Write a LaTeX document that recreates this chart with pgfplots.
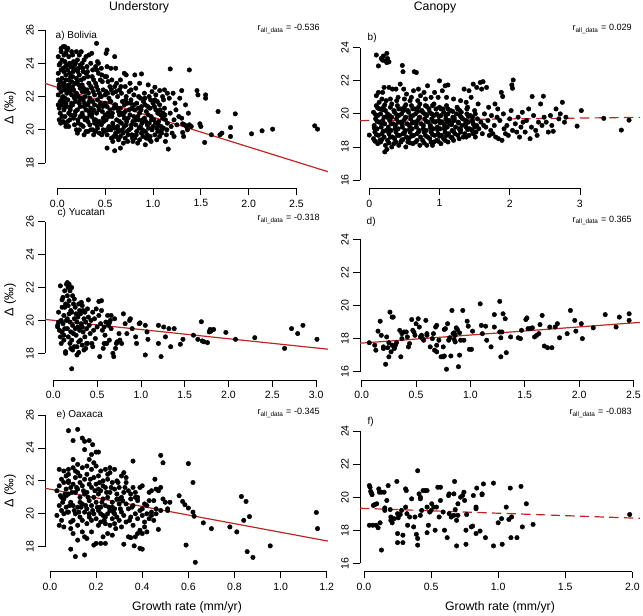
\documentclass[border=0pt]{standalone}
\usepackage{pgfplots}
\pgfplotsset{compat=1.18}
\usepackage{fontspec}
\setmainfont{Liberation Sans}
\definecolor{regred}{RGB}{190,38,38}
\pgfplotsset{
 rp/.style={
  scale only axis, clip=false,
  axis line style={draw=none},
  tick align=outside,
  major tick length=5pt,
  xtick pos=left, ytick pos=left,
  tick style={black, line width=0.6pt},
  ticklabel style={font=\fontsize{7.9}{9}\selectfont},
  yticklabel style={rotate=90, anchor=south},
  xticklabel style={anchor=north},
  /pgf/number format/assume math mode=true,
  scaled ticks=false,
  minor tick num=0,
 },
 pts/.style={only marks, mark=*, mark size=1.7pt, black, mark options={draw=black, fill=black, line width=0.3pt}},
 reg/.style={regred, line width=0.9pt, no marks},
 regd/.style={regred, line width=0.9pt, no marks, dash pattern=on 7pt off 4pt},
}
\newcommand{\rlab}[1]{\fontsize{6.8}{8}\selectfont r\textsubscript{\fontsize{4.8}{5}\selectfont all\_data} = #1}
\begin{document}
\begin{tikzpicture}[x=0.75pt,y=0.75pt]
\path[use as bounding box] (0,0) rectangle (643,615);

% ---------------- a) Bolivia understory
\begin{axis}[rp, at={(33.75pt,320pt)}, anchor=south west, width=212.25pt, height=123.2pt,
  xmin=-0.1285, xmax=2.829, ymin=16.48, ymax=26.36,
  xtick={0,0.5,1,1.5,2,2.5}, xticklabels={0.0,0.5,1.0,1.5,2.0,2.5},
  ytick={18,20,22,24,26}]
\draw[line width=0.6pt] (axis cs:0,16.48) -- (axis cs:2.5,16.48);
\draw[line width=0.6pt] (axis cs:-0.1285,18) -- (axis cs:-0.1285,26);
\addplot[pts] coordinates {
(0.01,24.4)(0.02,23.9)(0.01,23.4)(0.03,22.9)(0.02,22.5)(0.01,22.1)(0.03,21.7)(0.02,21.3)(0.04,24.7)(0.04,23.6)(0.05,23.1)(0.04,22.3)(0.05,21.9)(0.03,21.0)(0.02,20.6)(0.05,24.2)(0.01,23.0)(0.04,21.5)(0.05,20.8)(0.03,24.0)
(0.06,25.0)(0.07,24.5)(0.08,24.1)(0.06,23.7)(0.09,23.3)(0.07,22.8)(0.08,22.4)(0.06,22.0)(0.09,21.6)(0.07,21.2)(0.08,20.8)(0.06,20.5)(0.10,24.8)(0.09,24.6)(0.10,23.9)(0.09,23.0)(0.10,22.6)(0.08,21.9)(0.10,21.4)(0.09,20.2)(0.07,23.5)(0.08,25.0)
(0.11,24.9)(0.12,24.4)(0.13,24.0)(0.11,23.6)(0.14,23.2)(0.12,22.7)(0.13,22.3)(0.11,21.8)(0.14,21.4)(0.12,21.0)(0.13,20.6)(0.15,24.7)(0.14,23.8)(0.15,22.9)(0.15,22.1)(0.14,20.9)(0.12,20.2)(0.11,22.5)(0.13,23.4)(0.15,21.6)
(0.16,24.5)(0.17,24.1)(0.18,23.6)(0.16,23.2)(0.19,22.8)(0.17,22.4)(0.18,21.9)(0.16,21.5)(0.19,21.1)(0.17,20.7)(0.20,24.7)(0.19,24.0)(0.20,23.1)(0.20,22.2)(0.18,20.3)(0.19,21.7)(0.16,22.6)(0.18,23.9)
(0.21,24.2)(0.22,23.7)(0.23,23.3)(0.21,22.9)(0.24,22.5)(0.22,22.0)(0.23,21.6)(0.21,21.2)(0.24,20.8)(0.22,20.4)(0.25,24.7)(0.24,23.9)(0.25,23.0)(0.25,21.9)(0.23,20.0)(0.21,19.8)(0.24,21.4)
(0.26,24.0)(0.27,23.5)(0.28,23.1)(0.26,22.7)(0.29,22.3)(0.27,21.8)(0.28,21.4)(0.26,21.0)(0.29,20.6)(0.27,20.2)(0.30,24.4)(0.30,23.4)(0.29,22.0)(0.30,21.2)(0.28,19.7)(0.26,22.3)
(0.31,23.8)(0.32,23.2)(0.33,22.8)(0.31,22.4)(0.34,21.9)(0.32,21.5)(0.33,21.1)(0.31,20.7)(0.34,20.3)(0.35,24.0)(0.35,22.6)(0.34,20.9)(0.32,19.9)(0.33,24.5)(0.35,21.3)
(0.36,24.6)(0.37,23.6)(0.38,23.0)(0.36,22.5)(0.39,22.1)(0.37,21.7)(0.38,21.2)(0.36,20.8)(0.39,20.4)(0.37,20.0)(0.40,23.8)(0.40,22.8)(0.39,21.5)(0.40,20.6)(0.38,19.7)
(0.41,25.2)(0.42,24.1)(0.43,23.4)(0.41,22.6)(0.44,22.2)(0.42,21.8)(0.43,21.4)(0.41,21.0)(0.44,20.5)(0.42,20.1)(0.45,23.0)(0.45,21.6)(0.44,19.8)(0.43,24.0)
(0.46,23.7)(0.47,22.9)(0.48,22.4)(0.46,22.0)(0.49,21.5)(0.47,21.1)(0.48,20.7)(0.46,20.3)(0.49,19.9)(0.50,23.2)(0.50,22.1)(0.50,20.9)(0.48,20.0)
(0.51,24.6)(0.52,24.8)(0.52,23.8)(0.53,22.9)(0.51,22.3)(0.54,21.9)(0.52,21.4)(0.53,21.0)(0.51,20.6)(0.54,20.2)(0.52,19.7)(0.52,18.9)(0.55,22.6)(0.55,21.2)(0.53,20.0)
(0.56,23.7)(0.57,23.0)(0.58,22.2)(0.56,21.7)(0.59,21.3)(0.57,20.8)(0.58,20.4)(0.56,20.0)(0.59,19.6)(0.60,24.4)(0.60,22.6)(0.60,20.1)(0.58,19.3)(0.60,18.74)
(0.61,23.7)(0.62,22.8)(0.63,22.0)(0.61,21.5)(0.64,21.1)(0.62,20.6)(0.63,20.2)(0.61,19.8)(0.64,19.4)(0.66,18.9)(0.65,22.4)(0.65,20.9)(0.64,19.9)
(0.66,23.0)(0.67,22.2)(0.68,21.7)(0.66,21.3)(0.69,20.9)(0.67,20.4)(0.68,20.0)(0.66,19.6)(0.69,19.2)(0.70,23.4)(0.70,21.5)(0.70,20.2)
(0.71,22.6)(0.72,22.0)(0.73,21.6)(0.71,21.1)(0.74,20.7)(0.72,20.3)(0.73,19.9)(0.71,19.5)(0.75,22.3)(0.75,21.2)(0.74,19.7)(0.72,23.3)
(0.76,22.8)(0.77,21.8)(0.78,21.3)(0.76,20.9)(0.79,20.5)(0.77,20.1)(0.78,19.7)(0.80,22.1)(0.80,20.8)(0.79,19.3)(0.77,22.4)
(0.81,23.3)(0.82,22.5)(0.83,21.6)(0.81,21.2)(0.84,20.8)(0.82,20.3)(0.83,19.9)(0.81,19.5)(0.85,22.0)(0.85,20.6)(0.84,19.2)
(0.86,22.8)(0.87,21.9)(0.88,21.4)(0.86,21.0)(0.89,20.6)(0.87,20.2)(0.88,19.8)(0.88,23.36)(0.90,21.7)(0.89,20.0)(0.86,19.4)
(0.91,22.2)(0.92,21.5)(0.93,21.1)(0.91,20.7)(0.94,20.3)(0.92,19.9)(0.93,19.5)(0.95,22.7)(0.95,20.9)(0.94,19.7)(0.92,19.1)
(0.96,22.0)(0.97,21.3)(0.98,20.8)(0.96,20.4)(0.99,20.0)(0.97,19.6)(1.00,21.6)(1.00,20.2)(0.98,19.3)(0.99,22.3)
(1.02,22.56)(1.02,21.8)(1.03,21.2)(1.01,20.6)(1.04,20.1)(1.02,19.7)(1.05,21.0)(1.05,19.9)(1.03,22.1)(1.04,19.4)
(1.07,22.36)(1.07,21.5)(1.08,20.9)(1.06,20.5)(1.09,20.0)(1.07,19.6)(1.10,22.0)(1.10,20.7)(1.09,19.8)
(1.11,21.8)(1.12,21.3)(1.13,20.6)(1.11,20.1)(1.14,19.7)(1.13,19.3)(1.15,22.2)(1.15,20.4)(1.12,22.4)
(1.16,18.84)(1.17,21.9)(1.18,21.0)(1.19,20.2)(1.18,23.66)(1.20,19.8)(1.21,22.2)(1.22,20.6)(1.23,21.6)(1.24,21.2)(1.25,20.3)(1.22,19.6)
(1.27,20.8)(1.28,21.9)(1.30,22.36)(1.30,20.7)(1.31,20.36)(1.31,19.84)(1.32,19.6)(1.33,20.3)(1.34,21.5)(1.35,20.2)(1.36,20.0)(1.38,23.6)(1.38,20.3)(1.37,21.0)(1.40,20.2)
(1.46,22.36)(1.47,22.1)(1.49,20.36)(1.50,20.2)(1.54,19.24)(1.55,22.1)(1.55,21.9)(1.61,19.7)(1.68,21.1)(1.70,19.7)(1.72,19.8)(1.81,20.14)(1.81,19.6)(1.86,20.96)(2.03,19.76)(2.14,19.94)(2.25,20.04)(2.69,20.24)(2.72,20.04)
(0.035,20.4)(0.035,22.7)(0.04,24.9)(0.085,20.4)(0.085,23.8)(0.065,22.6)(0.075,21.4)(0.12,23.0)(0.135,21.2)(0.11,20.5)(0.165,23.5)(0.175,22.0)(0.185,20.9)(0.2,20.0)(0.215,23.5)(0.225,22.7)(0.235,21.8)(0.215,20.6)(0.25,20.3)(0.265,23.7)(0.275,22.5)(0.285,21.6)(0.27,20.8)(0.3,19.9)
(0.315,23.5)(0.325,22.2)(0.335,21.7)(0.32,20.5)(0.35,20.0)(0.365,23.2)(0.375,22.3)(0.385,20.6)(0.36,21.0)(0.4,19.9)(0.415,23.6)(0.425,22.4)(0.435,21.2)(0.415,20.3)(0.45,22.0)(0.465,23.3)(0.475,21.4)(0.485,20.5)(0.465,19.7)(0.5,21.6)
(0.515,23.2)(0.525,22.2)(0.535,20.8)(0.515,20.0)(0.55,21.7)(0.565,22.4)(0.575,21.0)(0.585,20.2)(0.565,19.5)(0.6,21.5)(0.615,22.3)(0.625,21.3)(0.635,20.0)(0.615,19.6)(0.65,20.5)(0.665,22.6)(0.675,21.0)(0.685,19.8)(0.7,20.7)
(0.715,21.8)(0.725,20.5)(0.735,19.3)(0.75,20.0)(0.765,21.6)(0.775,20.3)(0.785,19.5)(0.8,21.5)(0.815,20.6)(0.825,19.7)(0.845,21.3)(0.855,20.1)(0.875,21.2)(0.885,20.4)(0.895,19.6)(0.915,21.9)(0.925,20.5)(0.945,21.4)(0.955,20.1)(0.965,19.4)
(0.975,21.8)(0.985,20.6)(1.015,21.4)(1.025,20.4)(1.045,21.7)(1.055,20.3)(1.075,21.2)(1.085,20.2)(1.105,21.0)(1.125,20.9)(1.145,20.0)(0.02,22.7)(0.01,21.5)(0.06,21.7)(0.1,22.2)(0.14,22.5)(0.17,23.7)(0.23,24.5)(0.28,24.2)
};
\addplot[reg] coordinates {(-0.1285,22.79) (2.829,17.48)};
\end{axis}

% ---------------- b) Bolivia canopy
\begin{axis}[rp, at={(270pt,320pt)}, anchor=south west, width=210pt, height=123.2pt,
  xmin=-0.1325, xmax=3.856, ymin=15.498, ymax=25.433,
  xtick={0,1,2,3}, xticklabels={0,1,2,3},
  ytick={16,18,20,22,24}]
\draw[line width=0.6pt] (axis cs:0,15.498) -- (axis cs:3,15.498);
\draw[line width=0.6pt] (axis cs:-0.1325,16) -- (axis cs:-0.1325,24);
\addplot[pts] coordinates {
(0.10,23.56)(0.13,22.9)(0.17,23.35)(0.20,23.5)(0.25,23.66)(0.26,23.35)(0.28,23.15)(0.23,23.2)(0.19,23.25)(0.25,23.1)
(0.06,18.5)(0.08,18.9)(0.07,19.3)(0.09,19.7)(0.06,20.1)(0.10,20.5)(0.12,18.2)(0.13,18.7)(0.11,19.1)(0.14,19.5)(0.12,19.9)(0.15,20.3)(0.13,21.3)(0.10,21.1)(0.15,18.4)(0.0,18.72)(0.14,20.7)
(0.16,18.3)(0.18,18.8)(0.17,19.2)(0.19,19.6)(0.16,20.0)(0.20,20.4)(0.22,17.7)(0.23,18.1)(0.21,18.6)(0.24,19.0)(0.22,19.4)(0.25,19.8)(0.23,20.2)(0.24,20.8)(0.19,21.3)(0.21,21.6)(0.25,17.85)(0.18,20.9)
(0.26,18.4)(0.28,18.8)(0.27,19.2)(0.29,19.6)(0.26,20.0)(0.30,20.4)(0.32,18.0)(0.33,18.6)(0.31,19.0)(0.34,19.4)(0.32,19.8)(0.35,20.2)(0.30,20.9)(0.33,21.5)(0.28,21.6)(0.35,18.2)
(0.36,18.5)(0.38,18.9)(0.37,19.3)(0.39,19.7)(0.36,20.1)(0.40,20.5)(0.42,18.1)(0.43,18.7)(0.41,19.1)(0.44,19.5)(0.42,19.9)(0.45,20.3)(0.41,21.0)(0.44,21.8)(0.38,21.5)(0.45,18.3)(0.39,20.8)
(0.46,18.4)(0.48,18.8)(0.47,19.2)(0.49,19.6)(0.46,20.0)(0.50,20.4)(0.52,18.0)(0.53,18.6)(0.51,19.0)(0.54,19.4)(0.52,19.8)(0.55,20.2)(0.47,22.93)(0.48,22.55)(0.50,20.9)(0.53,21.2)(0.55,18.3)(0.49,21.5)
(0.56,18.5)(0.58,18.9)(0.57,19.3)(0.59,19.7)(0.56,20.1)(0.60,20.5)(0.62,18.2)(0.63,18.7)(0.61,19.1)(0.64,19.5)(0.62,19.9)(0.65,20.3)(0.64,22.55)(0.60,21.0)(0.63,21.4)(0.58,20.8)
(0.66,18.3)(0.68,18.8)(0.67,19.2)(0.69,19.6)(0.66,20.0)(0.70,20.4)(0.72,18.1)(0.73,18.6)(0.71,19.0)(0.74,19.4)(0.72,19.8)(0.75,20.2)(0.67,22.5)(0.70,21.5)(0.73,21.1)(0.69,20.8)
(0.76,18.4)(0.78,18.9)(0.77,19.3)(0.79,19.7)(0.76,20.1)(0.80,20.5)(0.82,18.1)(0.83,18.6)(0.81,19.0)(0.84,19.5)(0.82,19.9)(0.85,20.3)(0.78,21.3)(0.83,21.7)(0.80,20.9)
(0.86,18.5)(0.88,18.9)(0.87,19.3)(0.89,19.7)(0.86,20.1)(0.90,20.5)(0.92,18.3)(0.93,18.7)(0.91,19.1)(0.94,19.5)(0.92,19.9)(0.95,20.3)(0.88,21.0)(0.93,21.3)(0.90,18.1)
(0.96,18.4)(0.98,18.8)(0.97,19.2)(0.99,19.6)(0.96,20.0)(1.00,20.4)(1.02,18.2)(1.03,18.7)(1.01,19.1)(1.04,19.5)(1.02,19.9)(1.05,20.3)(1.00,22.0)(0.98,21.0)(1.04,21.4)
(1.06,18.5)(1.08,18.9)(1.07,19.3)(1.09,19.7)(1.06,20.1)(1.10,20.5)(1.12,18.3)(1.13,18.8)(1.11,19.2)(1.14,19.6)(1.12,20.0)(1.15,19.4)(1.08,21.7)(1.12,21.75)(1.10,21.0)
(1.16,18.6)(1.18,19.0)(1.17,19.4)(1.19,19.8)(1.16,20.2)(1.20,18.4)(1.22,18.8)(1.23,19.2)(1.21,19.6)(1.24,20.0)(1.25,20.4)(1.20,20.9)
(1.26,18.7)(1.28,19.1)(1.27,19.5)(1.29,19.9)(1.26,20.3)(1.30,18.9)(1.32,19.3)(1.33,19.7)(1.31,20.1)(1.34,18.6)(1.35,21.5)(1.30,20.8)
(1.36,18.8)(1.38,19.2)(1.37,19.6)(1.39,20.0)(1.40,20.4)(1.42,18.7)(1.43,19.1)(1.41,19.5)(1.44,19.9)(1.45,21.0)(1.42,21.4)(1.38,20.7)
(1.46,19.0)(1.48,19.4)(1.47,19.8)(1.50,20.2)(1.52,18.9)(1.53,19.3)(1.51,18.6)(1.54,19.7)(1.55,20.6)(1.48,21.8)(1.53,21.6)
(1.58,21.9)(1.62,21.95)(1.56,19.1)(1.59,19.5)(1.61,18.8)(1.63,19.3)(1.64,20.0)(1.60,21.5)
(1.67,21.6)(1.66,19.2)(1.69,19.6)(1.71,18.7)(1.73,19.0)(1.74,19.9)(1.70,20.4)
(1.76,18.8)(1.78,19.3)(1.80,18.6)(1.82,19.8)(1.84,18.5)(1.83,20.3)(1.79,20.6)
(1.88,21.3)(1.90,21.05)(1.86,19.6)(1.89,18.4)(1.92,19.1)(1.94,18.8)(1.91,20.0)
(2.03,21.75)(2.04,21.55)(2.05,22.05)(1.96,19.3)(1.98,18.7)(2.00,19.7)(2.02,20.2)(2.04,19.0)
(2.08,19.4)(2.10,18.9)(2.12,19.8)(2.14,18.6)(2.16,19.2)(2.18,20.1)(2.19,19.5)
(2.22,18.9)(2.24,19.6)(2.27,20.3)(2.29,18.5)(2.32,21.05)(2.31,19.2)(2.34,19.9)
(2.37,19.0)(2.39,18.7)(2.41,19.5)(2.44,20.6)(2.46,19.3)(2.48,21.07)(2.49,19.8)
(2.52,19.5)(2.55,18.9)(2.58,19.9)(2.60,19.3)(2.62,18.95)(2.66,20.3)(2.70,19.7)(2.75,20.7)(2.78,19.5)(2.80,19.8)(2.72,20.0)
(3.02,20.2)(2.96,19.26)(3.34,19.73)(3.59,19.02)(3.70,19.62)
(0.08,18.35)(0.10,18.75)(0.07,19.15)(0.11,19.55)(0.09,19.95)(0.12,20.35)
(0.18,18.45)(0.20,18.95)(0.17,19.45)(0.21,19.8)(0.19,20.25)(0.22,20.55)
(0.28,18.25)(0.30,18.6)(0.27,19.0)(0.31,19.4)(0.29,19.9)(0.32,20.6)
(0.38,18.3)(0.40,18.7)(0.37,19.1)(0.41,19.5)(0.39,19.95)(0.42,20.3)
(0.48,18.45)(0.50,18.85)(0.47,19.35)(0.51,19.75)(0.49,20.2)(0.52,20.55)
(0.58,18.25)(0.60,18.65)(0.57,19.05)(0.61,19.45)(0.59,19.85)(0.62,20.3)
(0.68,18.4)(0.70,18.9)(0.67,19.4)(0.71,19.75)(0.69,20.15)(0.72,20.6)
(0.78,18.25)(0.80,18.7)(0.77,19.1)(0.81,19.55)(0.79,20.0)(0.82,20.45)
(0.88,18.3)(0.90,18.75)(0.87,19.15)(0.91,19.55)(0.89,20.0)(0.92,20.6)
(0.98,18.35)(1.00,18.65)(0.97,19.05)(1.01,19.45)(0.99,19.85)(1.02,20.3)
(1.08,18.4)(1.10,18.7)(1.07,19.1)(1.11,19.5)(1.09,19.9)(1.12,20.3)
(1.18,18.55)(1.20,18.95)(1.17,19.35)(1.21,19.75)(1.19,20.15)
(1.28,18.5)(1.30,19.05)(1.27,19.45)(1.31,19.8)(1.29,20.2)
(1.38,18.6)(1.40,19.05)(1.37,19.4)(1.41,19.85)(1.39,20.3)
(1.48,18.8)(1.50,19.2)(1.47,19.6)(1.51,20.0)
};
\addplot[regd] coordinates {(-0.1325,19.59) (3.856,19.79)};
\end{axis}

% ---------------- c) Yucatan understory
\begin{axis}[rp, at={(33.75pt,176.25pt)}, anchor=south west, width=212.25pt, height=123.2pt,
  xmin=-0.095, xmax=3.136, ymin=16.377, ymax=26.365,
  xtick={0,0.5,1,1.5,2,2.5,3}, xticklabels={0.0,0.5,1.0,1.5,2.0,2.5,3.0},
  ytick={18,20,22,24,26}]
\draw[line width=0.6pt] (axis cs:0,16.377) -- (axis cs:3,16.377);
\draw[line width=0.6pt] (axis cs:-0.095,18) -- (axis cs:-0.095,26);
\addplot[pts] coordinates {
(0.05,19.6)(0.05,19.7)(0.06,20.5)(0.08,22.1)(0.10,21.25)(0.08,19.0)(0.07,19.4)(0.09,20.0)(0.10,20.8)(0.09,18.6)(0.06,19.9)(0.10,19.3)
(0.11,19.8)(0.12,20.3)(0.13,20.8)(0.11,21.4)(0.12,18.8)(0.14,18.0)(0.14,18.1)(0.13,19.5)(0.15,22.2)(0.14,21.0)(0.12,19.1)(0.15,20.0)(0.13,21.8)
(0.16,22.3)(0.17,22.0)(0.18,22.2)(0.16,21.5)(0.17,20.9)(0.18,20.4)(0.19,19.9)(0.16,19.5)(0.17,19.0)(0.19,18.6)(0.20,18.3)(0.18,21.2)(0.20,20.6)(0.19,21.8)(0.16,20.1)(0.20,19.3)
(0.21,17.06)(0.21,22.0)(0.22,21.5)(0.23,21.0)(0.21,20.5)(0.24,20.1)(0.22,19.7)(0.23,19.2)(0.21,18.8)(0.24,18.4)(0.25,20.8)(0.25,19.5)(0.22,18.2)(0.24,21.3)
(0.27,17.9)(0.29,18.05)(0.26,20.4)(0.27,19.9)(0.28,19.6)(0.26,19.1)(0.29,18.7)(0.28,20.2)(0.30,20.6)(0.30,19.4)(0.27,18.4)(0.29,21.0)
(0.33,20.9)(0.31,20.4)(0.32,19.8)(0.34,19.3)(0.31,18.8)(0.33,18.5)(0.35,20.1)(0.34,20.6)(0.32,21.1)(0.35,18.2)(0.33,19.6)
(0.40,21.25)(0.36,20.5)(0.37,19.9)(0.38,19.5)(0.36,19.0)(0.39,18.6)(0.37,18.3)(0.40,20.2)(0.39,20.7)(0.38,18.6)
(0.41,19.7)(0.42,19.2)(0.44,18.6)(0.43,20.0)(0.45,20.5)(0.46,19.4)(0.48,18.9)(0.47,20.1)(0.49,20.7)(0.50,19.6)(0.45,18.4)
(0.52,21.15)(0.55,21.2)(0.53,17.8)(0.58,18.6)(0.57,18.3)(0.60,18.6)(0.61,18.6)(0.52,20.3)(0.54,19.8)(0.56,19.4)(0.58,19.6)(0.60,19.9)(0.62,20.3)(0.63,19.7)(0.55,20.6)(0.59,19.1)(0.64,18.8)
(0.64,19.85)(0.65,20.0)(0.66,20.3)(0.70,20.1)(0.71,18.3)(0.75,19.2)(0.78,18.6)(0.82,19.8)(0.66,19.5)
(0.68,18.0)(0.69,17.8)(0.72,18.6)(0.73,18.7)(0.76,18.8)(0.80,20.4)(0.84,19.2)(0.87,20.0)(0.88,20.1)(0.90,19.5)(0.94,19.0)(0.95,18.6)(0.98,19.8)(0.99,19.85)
(1.05,19.7)(1.05,17.9)(1.07,19.3)(1.08,18.85)(1.20,19.7)(1.20,18.6)(1.23,17.8)(1.26,19.6)(1.28,19.0)(1.32,19.5)(1.34,18.4)(1.38,19.5)(1.45,18.55)(1.48,18.85)
(1.60,19.1)(1.65,18.85)(1.69,19.92)(1.70,18.75)(1.72,18.7)(1.76,18.65)(1.78,19.3)(1.79,19.45)(1.80,19.35)(1.83,19.45)(1.97,19.27)(2.08,18.85)(2.30,18.95)(2.64,18.3)(2.72,19.5)(2.79,19.2)(2.85,19.7)(3.01,18.85)
};
\addplot[reg] coordinates {(-0.095,20.06) (3.136,18.25)};
\end{axis}

% ---------------- d) Yucatan canopy
\begin{axis}[rp, at={(270pt,176.25pt)}, anchor=south west, width=210pt, height=123.2pt,
  xmin=-0.0156, xmax=2.560, ymin=15.498, ymax=25.426,
  xtick={0,0.5,1,1.5,2,2.5}, xticklabels={0.0,0.5,1.0,1.5,2.0,2.5},
  ytick={16,18,20,22,24}]
\draw[line width=0.6pt] (axis cs:0,15.498) -- (axis cs:2.5,15.498);
\draw[line width=0.6pt] (axis cs:-0.0156,16) -- (axis cs:-0.0156,24);
\addplot[pts] coordinates {
(0.07,17.75)(0.12,17.6)(0.13,17.3)(0.15,18.45)(0.17,19.05)(0.18,18.2)(0.20,17.5)(0.20,17.4)(0.22,16.45)(0.23,18.1)(0.24,17.45)(0.25,17.75)(0.25,16.9)(0.26,19.6)(0.27,17.2)(0.28,17.6)(0.28,19.3)(0.29,19.3)
(0.30,17.5)(0.31,17.6)(0.30,17.4)(0.32,17.75)(0.35,18.5)(0.36,16.9)(0.37,18.0)(0.37,18.3)(0.39,18.4)(0.41,18.4)(0.42,18.1)(0.44,17.7)(0.43,17.5)(0.46,19.15)(0.47,18.5)(0.48,18.4)(0.49,18.2)
(0.50,18.9)(0.52,19.2)(0.53,18.7)(0.54,18.1)(0.55,18.2)(0.56,18.0)(0.57,17.9)(0.59,19.1)(0.60,18.2)(0.60,18.3)(0.63,17.5)(0.65,18.0)(0.66,18.3)(0.67,17.3)(0.68,18.7)(0.69,18.8)(0.69,17.2)(0.69,17.6)
(0.71,17.9)(0.73,16.9)(0.75,16.9)(0.76,16.95)(0.75,17.5)(0.76,18.55)(0.77,18.6)(0.78,16.15)(0.79,18.9)(0.80,17.9)(0.81,18.05)(0.82,16.95)(0.83,19.7)(0.84,18.3)(0.85,18.35)(0.86,18.2)(0.85,17.95)(0.86,17.8)
(0.87,18.65)(0.88,18.55)(0.89,16.3)(0.90,18.35)(0.91,17.9)(0.90,17.0)(0.93,19.7)(0.94,17.9)(0.97,19.05)(0.98,18.75)(0.99,17.35)(1.01,17.35)(1.02,18.45)
(1.09,20.1)(1.10,18.8)(1.11,18.3)(1.14,18.75)(1.15,17.9)(1.19,17.5)(1.22,19.45)(1.22,18.7)(1.27,20.25)(1.27,18.4)(1.28,18.05)(1.29,18.4)(1.28,16.9)(1.30,19.5)(1.32,19.2)(1.33,17.15)(1.37,18.1)
(1.44,18.05)(1.46,18.0)(1.47,18.5)(1.51,19.15)(1.52,19.25)(1.53,18.6)(1.55,18.6)(1.57,18.65)(1.59,18.1)(1.61,18.2)(1.63,18.3)(1.64,18.85)(1.66,19.4)(1.68,17.55)(1.71,17.45)(1.73,18.7)(1.75,17.45)
(1.78,18.7)(1.80,18.9)(1.82,18.05)(1.89,18.3)(1.92,19.7)(1.96,19.1)(1.97,18.45)(2.02,18.9)(2.03,18.0)(2.13,18.65)(2.24,19.45)(2.34,18.7)(2.37,19.3)(2.46,19.5)(2.46,19.1)
};
\addplot[reg] coordinates {(-0.0156,17.72) (2.560,18.98)};
\end{axis}

% ---------------- e) Oaxaca understory
\begin{axis}[rp, at={(33.75pt,32.475pt)}, anchor=south west, width=212.25pt, height=123.2pt,
  xmin=-0.0217, xmax=1.2055, ymin=16.481, ymax=26.462,
  xtick={0,0.2,0.4,0.6,0.8,1.0,1.2}, xticklabels={0.0,0.2,0.4,0.6,0.8,1.0,1.2},
  ytick={18,20,22,24,26}]
\draw[line width=0.6pt] (axis cs:0,16.481) -- (axis cs:1.2,16.481);
\draw[line width=0.6pt] (axis cs:-0.0217,18) -- (axis cs:-0.0217,26);
\addplot[pts] coordinates {
(0.03,21.4)(0.04,20.5)(0.03,19.9)(0.04,22.7)(0.05,22.1)(0.05,21.0)(0.04,19.3)(0.05,20.2)(0.04,21.7)
(0.06,22.6)(0.06,21.9)(0.07,21.5)(0.06,20.9)(0.07,20.4)(0.06,19.2)(0.07,22.3)(0.05,19.6)(0.07,21.1)(0.06,20.0)
(0.08,25.05)(0.08,22.7)(0.08,22.0)(0.09,21.6)(0.08,21.2)(0.09,20.7)(0.08,20.1)(0.09,19.5)(0.09,17.85)(0.08,22.4)(0.09,19.1)(0.08,21.9)
(0.10,24.45)(0.10,23.3)(0.10,22.8)(0.11,22.2)(0.10,21.8)(0.11,21.3)(0.10,20.5)(0.11,20.0)(0.11,17.4)(0.10,19.6)(0.11,22.6)(0.10,18.8)
(0.12,25.13)(0.12,23.0)(0.12,22.5)(0.13,21.9)(0.12,21.5)(0.13,21.0)(0.12,20.4)(0.13,19.8)(0.12,19.3)(0.13,22.3)(0.13,20.7)(0.12,18.4)
(0.14,24.6)(0.15,24.4)(0.15,23.9)(0.14,22.8)(0.15,22.1)(0.14,21.7)(0.15,21.2)(0.14,20.6)(0.15,20.1)(0.14,19.6)(0.15,17.5)(0.14,18.9)(0.15,18.6)
(0.17,24.45)(0.16,22.9)(0.16,22.4)(0.17,21.8)(0.16,21.3)(0.17,20.8)(0.16,20.3)(0.17,19.8)(0.16,19.4)(0.17,23.3)(0.16,18.5)(0.17,20.0)
(0.185,24.2)(0.18,23.6)(0.18,22.7)(0.19,22.2)(0.18,21.6)(0.19,21.0)(0.18,20.5)(0.19,20.0)(0.18,19.6)(0.19,18.1)(0.18,18.9)(0.19,23.1)
(0.20,23.75)(0.21,23.75)(0.20,22.9)(0.21,22.3)(0.20,21.8)(0.21,21.2)(0.20,20.7)(0.21,20.2)(0.20,19.7)(0.21,19.3)(0.20,18.2)(0.21,21.5)
(0.22,22.6)(0.23,22.0)(0.22,21.4)(0.23,20.9)(0.22,20.4)(0.23,19.9)(0.22,19.5)(0.23,18.6)(0.22,18.2)(0.23,21.7)(0.22,20.0)
(0.24,22.7)(0.25,22.1)(0.24,21.6)(0.25,21.0)(0.24,20.5)(0.25,20.0)(0.24,19.4)(0.25,18.8)(0.24,18.2)(0.25,22.4)(0.24,19.8)
(0.26,22.5)(0.27,21.9)(0.26,21.3)(0.27,20.7)(0.26,20.2)(0.27,19.7)(0.26,19.3)(0.27,18.7)(0.26,22.8)(0.27,20.4)
(0.28,22.7)(0.29,22.0)(0.28,21.5)(0.29,20.9)(0.28,20.3)(0.29,19.8)(0.28,19.4)(0.29,21.2)(0.28,20.0)
(0.30,21.6)(0.31,21.0)(0.30,20.6)(0.31,20.1)(0.30,19.6)(0.31,19.2)(0.30,20.9)(0.31,22.3)
(0.32,22.5)(0.33,21.9)(0.32,21.3)(0.33,20.6)(0.32,19.9)(0.33,19.5)(0.32,18.15)(0.33,22.2)
(0.34,21.4)(0.35,20.9)(0.34,20.3)(0.35,19.8)(0.34,18.6)(0.35,18.55)(0.35,21.2)
(0.36,23.2)(0.36,21.6)(0.37,21.0)(0.36,20.5)(0.37,20.0)(0.36,19.3)(0.365,18.05)(0.37,18.6)(0.37,21.3)
(0.38,20.8)(0.39,20.2)(0.38,19.7)(0.39,19.0)(0.38,18.8)(0.39,17.9)(0.39,21.6)(0.38,21.0)
(0.40,21.7)(0.41,20.6)(0.40,19.9)(0.41,19.5)(0.40,18.8)(0.40,17.85)(0.41,19.2)(0.40,20.3)
(0.42,20.0)(0.43,21.3)(0.42,20.5)(0.43,19.7)(0.42,18.9)(0.43,20.8)
(0.44,21.4)(0.45,20.8)(0.44,20.1)(0.45,19.6)(0.44,19.9)
(0.455,22.1)(0.46,21.5)(0.47,21.4)(0.46,20.3)(0.47,19.05)(0.46,20.0)
(0.48,23.55)(0.49,23.1)(0.48,21.6)(0.49,20.9)(0.48,20.2)(0.50,20.7)(0.51,20.2)(0.52,20.7)(0.51,20.3)
(0.56,21.1)(0.575,20.75)(0.585,20.55)(0.59,18.1)(0.60,20.35)(0.60,23.05)(0.62,21.9)(0.62,20.1)(0.625,19.85)(0.63,17.05)(0.665,19.45)(0.70,19.1)(0.78,19.2)(0.81,18.9)(0.83,21.05)(0.85,20.75)(0.84,19.6)(0.865,19.83)(0.855,17.7)(0.88,17.35)(0.955,18.05)(1.155,20.08)(1.16,19.1)
(0.045,21.1)(0.055,20.7)(0.065,21.2)(0.075,20.1)(0.085,20.5)(0.095,21.3)(0.105,20.2)(0.115,21.6)(0.125,20.1)(0.135,20.4)(0.145,21.4)(0.155,20.5)(0.165,21.0)(0.175,22.1)(0.185,20.2)(0.195,21.4)
(0.205,20.4)(0.215,21.9)(0.225,20.7)(0.235,19.6)(0.245,21.3)(0.255,20.4)(0.265,21.6)(0.275,20.1)(0.285,19.1)(0.295,21.9)(0.305,20.3)(0.315,20.8)(0.325,21.6)(0.345,19.6)(0.355,20.4)
};
\addplot[reg] coordinates {(-0.0217,21.55) (1.2055,18.34)};
\end{axis}

% ---------------- f) Oaxaca canopy
\begin{axis}[rp, at={(270pt,32.475pt)}, anchor=south west, width=210pt, height=123.2pt,
  xmin=-0.0298, xmax=2.057, ymin=15.49, ymax=25.43,
  xtick={0,0.5,1,1.5,2}, xticklabels={0.0,0.5,1.0,1.5,2.0},
  ytick={16,18,20,22,24}]
\draw[line width=0.6pt] (axis cs:0,15.49) -- (axis cs:2,15.49);
\draw[line width=0.6pt] (axis cs:-0.0298,16) -- (axis cs:-0.0298,24);
\addplot[pts] coordinates {
(0.04,20.7)(0.045,20.6)(0.05,20.35)(0.055,20.25)(0.06,20.15)(0.04,18.3)(0.065,18.3)(0.07,19.5)(0.08,19.55)(0.095,19.6)(0.09,18.3)(0.105,18.15)(0.115,20.3)(0.11,20.5)(0.12,18.45)(0.13,16.8)(0.13,20.3)(0.15,20.3)
(0.155,19.2)(0.155,19.35)(0.17,19.8)(0.18,20.7)(0.195,19.25)(0.20,18.8)(0.20,18.6)(0.21,18.45)(0.225,18.7)(0.245,20.95)(0.25,19.0)(0.255,18.75)(0.25,17.8)(0.25,17.25)(0.28,19.2)(0.27,18.95)(0.29,17.7)(0.29,17.25)
(0.31,20.5)(0.315,20.4)(0.31,19.4)(0.32,19.0)(0.325,18.3)(0.34,18.8)(0.355,19.9)(0.37,18.2)(0.38,18.8)(0.39,17.75)(0.40,17.1)(0.40,17.5)(0.40,21.6)(0.41,20.2)(0.42,19.9)(0.42,20.0)(0.43,19.2)(0.42,18.9)
(0.44,20.4)(0.455,20.4)(0.47,20.4)(0.47,17.85)(0.47,19.4)(0.48,18.3)(0.49,19.1)(0.50,19.2)(0.505,19.6)(0.52,19.4)(0.53,18.0)(0.54,19.4)(0.55,20.6)(0.57,20.6)(0.56,18.8)(0.57,19.8)(0.59,19.1)(0.60,18.0)
(0.62,17.55)(0.63,20.1)(0.635,20.2)(0.635,19.0)(0.65,18.8)(0.67,20.2)(0.67,18.9)(0.675,20.95)(0.68,19.25)(0.69,18.6)(0.70,18.9)(0.69,17.05)(0.70,19.6)(0.72,20.0)(0.735,20.1)(0.745,20.3)(0.75,19.8)(0.76,18.0)(0.76,17.15)(0.765,18.95)
(0.80,18.2)(0.81,18.25)(0.815,20.1)(0.835,19.4)(0.835,19.3)(0.84,20.55)(0.835,17.8)(0.865,17.95)(0.88,20.15)(0.88,20.2)(0.89,20.8)(0.905,17.55)(0.965,17.05)(0.965,20.85)(1.00,18.45)(1.025,18.7)(1.03,17.15)
(1.06,19.4)(1.08,18.65)(1.09,20.55)(1.095,17.55)(1.10,18.8)(1.14,17.55)(1.17,20.65)(1.18,18.2)(1.21,19.6)(1.26,18.35)(1.98,18.95)
};
\addplot[regd] coordinates {(-0.0298,19.33) (2.057,18.72)};
\end{axis}

% ---------------- texts
\node[font=\fontsize{9.2}{11}\selectfont] at (139,608) {Understory};
\node[font=\fontsize{9.2}{11}\selectfont] at (435,608) {Canopy};
\node[font=\fontsize{9.2}{11}\selectfont] at (187,8) {Growth rate (mm/yr)};
\node[font=\fontsize{9.2}{11}\selectfont] at (500,8) {Growth rate (mm/yr)};
\foreach \yy in {507,315,124}{
  \node[font=\fontsize{9.5}{11}\selectfont, rotate=90] at (10,\yy) {Δ (‰)};
}
\node[anchor=west, font=\fontsize{7.5}{9}\selectfont] at (51,579) {a) Bolivia};
\node[anchor=west, font=\fontsize{7.5}{9}\selectfont] at (363,577.3) {b)};
\node[anchor=west, font=\fontsize{7.5}{9}\selectfont] at (53,402) {c) Yucatan};
\node[anchor=west, font=\fontsize{7.5}{9}\selectfont] at (362,393.3) {d)};
\node[anchor=west, font=\fontsize{7.5}{9}\selectfont] at (52,200) {e) Oaxaca};
\node[anchor=west, font=\fontsize{7.5}{9}\selectfont] at (363,193.3) {f)};
\node[anchor=east, inner sep=0pt] at (320,586) {\rlab{-0.536}};
\node[anchor=east, inner sep=0pt] at (632,586) {\rlab{0.029}};
\node[anchor=east, inner sep=0pt] at (320,396) {\rlab{-0.318}};
\node[anchor=east, inner sep=0pt] at (632,394.3) {\rlab{0.365}};
\node[anchor=east, inner sep=0pt] at (320,202) {\rlab{-0.345}};
\node[anchor=east, inner sep=0pt] at (632,202) {\rlab{-0.083}};
\end{tikzpicture}
\end{document}
